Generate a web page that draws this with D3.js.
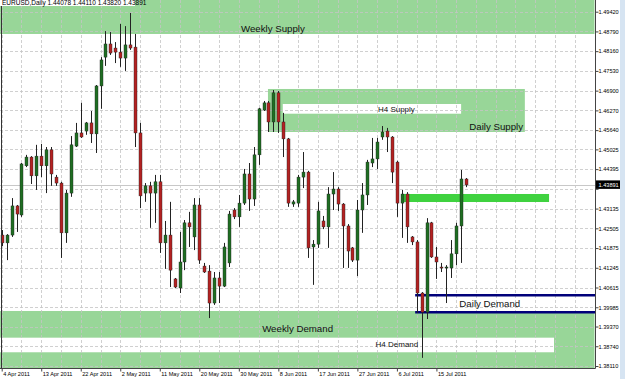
<!DOCTYPE html>
<html>
<head>
<meta charset="utf-8">
<script src="https://cdn.jsdelivr.net/npm/d3@7"></script>
<style>
  body { margin: 0; background: #fff; }
  svg { display: block; font-family: "Liberation Sans", Arial, sans-serif; }
</style>
</head>
<body>
<div id="chart"></div>
<script>
let w = 625;
let h = 379;

// OHLC, one value per daily bar (4 Apr 2011 .. 21 Jul 2011)
let open = [1.4229,1.4204,1.4229,1.4322,1.4293,1.4450,1.4478,1.4418,1.4481,1.4450,
  1.4501,1.4414,1.4395,1.4236,1.4363,1.4513,1.4555,1.4561,1.4587,1.4552,
  1.4705,1.4797,1.4839,1.4826,1.4813,1.4794,1.4836,1.4829,1.4555,1.4363,
  1.4386,1.4363,1.4399,1.4204,1.4229,1.4089,1.4060,1.4143,1.4268,1.4223,
  1.4325,1.4130,1.4114,1.4012,1.4092,1.4066,1.4140,1.4309,1.4287,1.4331,
  1.4424,1.4344,1.4485,1.4628,1.4651,1.4590,1.4683,1.4590,1.4536,1.4328,
  1.4331,1.4414,1.4430,1.4191,1.4200,1.4274,1.4255,1.4360,1.4376,1.4328,
  1.4258,1.4188,1.4149,1.4309,1.4357,1.4459,1.4472,1.4542,1.4561,1.4542,
  1.4462,1.4331,1.4360,1.4223,1.4207,1.4044,1.3983,1.4268,1.4159,1.4127,
  1.4124,1.4124,1.4169,1.4258,1.4408];
let high = [1.4245,1.4232,1.4347,1.4325,1.4459,1.4485,1.4481,1.4517,1.4520,1.4510,
  1.4510,1.4421,1.4399,1.4373,1.4545,1.4587,1.4651,1.4590,1.4625,1.4708,
  1.4797,1.4880,1.4877,1.4845,1.4903,1.4896,1.4938,1.4871,1.4587,1.4395,
  1.4399,1.4421,1.4421,1.4274,1.4335,1.4092,1.4239,1.4277,1.4303,1.4347,
  1.4347,1.4140,1.4133,1.4111,1.4111,1.4204,1.4306,1.4315,1.4357,1.4440,
  1.4459,1.4510,1.4635,1.4657,1.4657,1.4692,1.4689,1.4619,1.4539,1.4341,
  1.4421,1.4494,1.4434,1.4213,1.4335,1.4290,1.4382,1.4430,1.4382,1.4331,
  1.4264,1.4191,1.4341,1.4395,1.4469,1.4539,1.4539,1.4577,1.4571,1.4545,
  1.4466,1.4373,1.4366,1.4226,1.4213,1.4047,1.4283,1.4271,1.4191,1.4140,
  1.4133,1.4213,1.4268,1.4437,1.4411];
let low = [1.4194,1.4149,1.4223,1.4239,1.4287,1.4446,1.4392,1.4373,1.4414,1.4363,
  1.4386,1.4386,1.4156,1.4204,1.4351,1.4510,1.4539,1.4549,1.4523,1.4491,
  1.4632,1.4769,1.4804,1.4778,1.4766,1.4753,1.4820,1.4510,1.4315,1.4335,
  1.4252,1.4268,1.4172,1.4121,1.4063,1.4060,1.4044,1.4117,1.4191,1.4181,
  1.4137,1.4108,1.3964,1.4006,1.4012,1.4063,1.4127,1.4280,1.4255,1.4325,
  1.4306,1.4322,1.4453,1.4625,1.4558,1.4558,1.4555,1.4478,1.4319,1.4319,
  1.4319,1.4379,1.4156,1.4070,1.4188,1.4248,1.4188,1.4309,1.4306,1.4124,
  1.4124,1.4143,1.4098,1.4236,1.4325,1.4446,1.4440,1.4533,1.4494,1.4395,
  1.4287,1.4220,1.4204,1.4197,1.3980,1.3837,1.3961,1.4156,1.4089,1.4111,
  1.4012,1.4092,1.4133,1.4140,1.4382];
let close = [1.4204,1.4229,1.4322,1.4296,1.4456,1.4478,1.4418,1.4481,1.4450,1.4501,
  1.4424,1.4395,1.4236,1.4363,1.4517,1.4555,1.4542,1.4587,1.4552,1.4705,
  1.4788,1.4839,1.4810,1.4813,1.4794,1.4836,1.4826,1.4555,1.4354,1.4386,
  1.4363,1.4399,1.4204,1.4229,1.4117,1.4063,1.4143,1.4268,1.4255,1.4325,
  1.4149,1.4111,1.4012,1.4092,1.4066,1.4191,1.4296,1.4287,1.4331,1.4424,
  1.4344,1.4485,1.4632,1.4651,1.4590,1.4683,1.4590,1.4536,1.4331,1.4335,
  1.4414,1.4430,1.4188,1.4200,1.4306,1.4255,1.4360,1.4376,1.4328,1.4258,
  1.4178,1.4149,1.4309,1.4357,1.4462,1.4472,1.4526,1.4558,1.4542,1.4430,
  1.4331,1.4360,1.4255,1.4207,1.4044,1.3983,1.4268,1.4159,1.4143,1.4124,
  1.4127,1.4169,1.4258,1.4408,1.43891];

// axis ticks
let priceTicks = [1.49420,1.48790,1.48160,1.47530,1.46900,1.46270,1.45640,1.45025,1.44395,
  1.43765,1.43135,1.42505,1.41875,1.41245,1.40615,1.39985,1.39370,1.38740,1.38110];
let dateLabels = ["4 Apr 2011","13 Apr 2011","22 Apr 2011","2 May 2011","11 May 2011","20 May 2011",
  "30 May 2011","8 Jun 2011","17 Jun 2011","27 Jun 2011","6 Jul 2011","15 Jul 2011"];
let dateBars = [0,8,16,24,32,40,48,56,64,72,80,88];

// zones drawn on the chart: price range + bar range
let zoneNames = ["Weekly Supply","Daily Supply","H4 Supply","Weekly Demand","H4 Demand"];
let zoneTop =    [1.5000, 1.46953, 1.46474, 1.39866, 1.39014];
let zoneBottom = [1.48709, 1.45581, 1.46164, 1.3700, 1.38548];
let zoneFrom =   [-1, 53.9, 56.9, -1, -1];
let zoneTo =     [120, 105.9, 93, 120, 111.8];
let zoneLabelBar =   [54.9, 100.1, 79.9, 59.9, 80.0];
let zoneLabelPrice = [1.48757, 1.45634, 1.46209, 1.39196, 1.38701];

let lastPrice = 1.43891;

let plotRight = 595.5;
let plotBottom = 368.5;

let svg = d3.select("#chart")
  .append("svg")
  .attr("width", w)
  .attr("height", h);

svg.append("rect").attr("width", w).attr("height", h).attr("fill", "#fff");

// scales
let xScale = d3.scaleLinear().domain([0, 94]).range([1.7, 1.7 + 94 * 4.94]);
let yScale = d3.scaleLinear().domain([1.38110, 1.49420]).range([366, 11.7]);

let plot = svg.append("g");
plot.append("clipPath").attr("id", "clip")
  .append("rect").attr("x", 0).attr("y", 0).attr("width", plotRight).attr("height", plotBottom);
let inner = plot.append("g").attr("clip-path", "url(#clip)");

// zones
let zoneFill = ["#98d698","#98d698","#ffffff","#98d698","#ffffff"];
zoneNames.forEach(function(name, k){
  inner.append("rect")
    .attr("x", xScale(zoneFrom[k]))
    .attr("y", yScale(zoneTop[k]))
    .attr("width", xScale(zoneTo[k]) - xScale(zoneFrom[k]))
    .attr("height", yScale(zoneBottom[k]) - yScale(zoneTop[k]))
    .attr("fill", zoneFill[k]);
});

// grid
let gridBars = d3.range(0, 120, 4);
inner.selectAll(".vgrid").data(gridBars).enter()
  .append("line")
  .attr("class", "vgrid")
  .attr("x1", d => Math.round(xScale(d)) + 0.5)
  .attr("x2", d => Math.round(xScale(d)) + 0.5)
  .attr("y1", 0).attr("y2", plotBottom)
  .attr("stroke", "#c4c4c4").attr("stroke-opacity", 0.8)
  .attr("stroke-dasharray", "3,2");
inner.selectAll(".hgrid").data(priceTicks).enter()
  .append("line")
  .attr("class", "hgrid")
  .attr("x1", 0).attr("x2", plotRight)
  .attr("y1", d => Math.round(yScale(d)) + 0.5)
  .attr("y2", d => Math.round(yScale(d)) + 0.5)
  .attr("stroke", "#c4c4c4").attr("stroke-opacity", 0.8)
  .attr("stroke-dasharray", "3,2");

// bright green level and daily demand lines
inner.append("rect")
  .attr("x", xScale(81.2)).attr("y", yScale(1.43601))
  .attr("width", xScale(110.8) - xScale(81.2))
  .attr("height", yScale(1.43345) - yScale(1.43601))
  .attr("fill", "#3fd23f");
[1.40367, 1.39825].forEach(function(p){
  inner.append("line")
    .attr("x1", xScale(83.7)).attr("x2", plotRight)
    .attr("y1", yScale(p)).attr("y2", yScale(p))
    .attr("stroke", "#00007a").attr("stroke-width", 2.6);
});

// bid line
inner.append("line")
  .attr("x1", 0).attr("x2", plotRight)
  .attr("y1", Math.round(yScale(lastPrice)) + 0.5)
  .attr("y2", Math.round(yScale(lastPrice)) + 0.5)
  .attr("stroke", "#c8c8c8");

// zone labels
let zoneFont = [9.7, 9.7, 8, 9.7, 8];
zoneNames.forEach(function(name, k){
  inner.append("text")
    .attr("x", xScale(zoneLabelBar[k]))
    .attr("y", yScale(zoneLabelPrice[k]))
    .attr("text-anchor", "middle")
    .attr("font-size", zoneFont[k])
    .attr("fill", "#111")
    .text(name);
});
inner.append("text")
  .attr("x", xScale(98.8)).attr("y", yScale(1.39984))
  .attr("text-anchor", "middle").attr("font-size", 9.7).attr("fill", "#111")
  .text("Daily Demand");

// candles
let idx = d3.range(open.length);
inner.selectAll(".wick").data(idx).enter()
  .append("line")
  .attr("class", "wick")
  .attr("x1", i => Math.round(xScale(i)) + 0.5)
  .attr("x2", i => Math.round(xScale(i)) + 0.5)
  .attr("y1", i => yScale(high[i]))
  .attr("y2", i => yScale(low[i]))
  .attr("stroke", "#222");
inner.selectAll(".body").data(idx).enter()
  .append("rect")
  .attr("class", "body")
  .attr("x", i => Math.round(xScale(i)) - 1)
  .attr("y", i => yScale(Math.max(open[i], close[i])))
  .attr("width", 3)
  .attr("height", i => Math.max(1, Math.abs(yScale(open[i]) - yScale(close[i]))))
  .attr("fill", i => close[i] >= open[i] ? "#1f6e22" : "#b42222")
  .attr("stroke", "#222").attr("stroke-width", 0.4);

// frame
svg.append("line").attr("x1", 1.5).attr("x2", 1.5).attr("y1", 0).attr("y2", plotBottom)
  .attr("stroke", "#333");

// price axis
let yAxis = d3.axisRight(yScale).tickValues(priceTicks).tickSize(3)
  .tickFormat(d3.format(".5f"));
let yAxisGroup = svg.append("g").attr("transform", "translate(" + plotRight + ",0)").call(yAxis);
yAxisGroup.select(".domain").attr("d", "M0,0V" + plotBottom).attr("stroke", "#444");
yAxisGroup.selectAll(".tick line").attr("stroke", "#444");
yAxisGroup.selectAll(".tick text").attr("x", 3).attr("font-size", 5.6)
  .attr("font-family", "Liberation Sans, Arial, sans-serif").attr("fill", "#000");
// the tick label sitting under the last-price box is hidden by it
yAxisGroup.selectAll(".tick").filter(d => Math.abs(yScale(d) - yScale(lastPrice)) < 6)
  .select("text").remove();

// date axis
let xAxis = d3.axisBottom(xScale).tickValues(dateBars).tickSize(3)
  .tickFormat((d, k) => dateLabels[k]);
let xAxisGroup = svg.append("g").attr("transform", "translate(0," + plotBottom + ")").call(xAxis);
xAxisGroup.select(".domain").attr("d", "M0,0H" + plotRight).attr("stroke", "#444");
xAxisGroup.selectAll(".tick line").attr("stroke", "#444");
xAxisGroup.selectAll(".tick text").attr("text-anchor", "start").attr("x", 1).attr("dy", "0.3em")
  .attr("font-size", 5.6).attr("font-family", "Liberation Sans, Arial, sans-serif").attr("fill", "#000");

// last price label
let lp = yScale(lastPrice);
svg.append("rect").attr("x", plotRight + 0.5).attr("y", lp - 4.5).attr("width", 24).attr("height", 8.5)
  .attr("fill", "#000");
svg.append("text").attr("x", plotRight + 3).attr("y", lp + 2)
  .attr("font-size", 5.6).attr("fill", "#fff").text(d3.format(".5f")(lastPrice));

// window edge
svg.append("rect").attr("x", 620).attr("y", 0).attr("width", 5).attr("height", h).attr("fill", "#d6e4f2");

// title, partly cut off at the top like the screenshot
svg.append("rect").attr("x", 0).attr("y", 0).attr("width", 135).attr("height", 6).attr("fill", "#fff");
svg.append("text").attr("x", 2).attr("y", 5).attr("font-size", 6.5).attr("fill", "#000")
  .text("EURUSD,Daily  1.44078 1.44110 1.43820 1.43891");
</script>
</body>
</html>
